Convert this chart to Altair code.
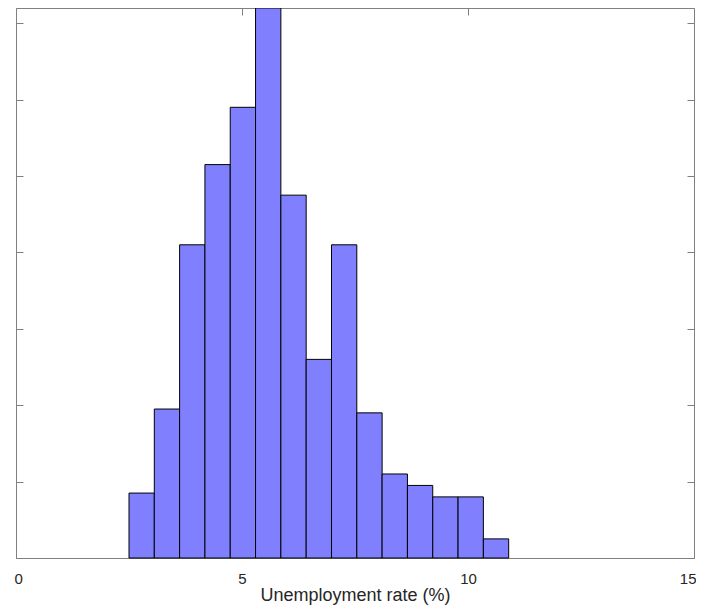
import altair as alt
import pandas as pd

# histogram bins (unemployment rate, %) and counts per bin
bin_lo = [2.50, 3.06, 3.62, 4.18, 4.74, 5.30, 5.86, 6.42, 6.98, 7.54, 8.10, 8.66, 9.22, 9.78, 10.34]
bin_hi = [3.06, 3.62, 4.18, 4.74, 5.30, 5.86, 6.42, 6.98, 7.54, 8.10, 8.66, 9.22, 9.78, 10.34, 10.90]
counts = [17, 39, 82, 103, 118, 144, 95, 52, 82, 38, 22, 19, 16, 16, 5]

x_ticks = [0, 5, 10, 15]
y_ticks = [0, 20, 40, 60, 80, 100, 120, 140]

df = pd.DataFrame({"lo": bin_lo, "hi": bin_hi, "count": counts})

x_scale = alt.Scale(domain=[0, 15], nice=False, zero=False)
y_scale = alt.Scale(domain=[0, 144], nice=False)

# inward ticks: pull the axis inside the frame and let ticks point back out to the edge
inward = dict(offset=-7, tickSize=7, tickColor="#808080", tickWidth=1, domain=False, grid=False)

bars = alt.Chart(df).mark_bar(color="#8080ff", stroke="black", strokeWidth=1).encode(
    x=alt.X(
        "lo:Q",
        scale=x_scale,
        axis=alt.Axis(
            orient="bottom",
            values=x_ticks,
            labelFontSize=15,
            labelColor="#262626",
            labelPadding=13,
            labelFlush=True,
            labelFlushOffset=2,
            labelOverlap=False,
            title="Unemployment rate (%)",
            titleFontSize=18,
            titleFontWeight="normal",
            titleColor="#262626",
            titlePadding=0,
            **inward,
        ),
    ),
    x2="hi:Q",
    y=alt.Y(
        "count:Q",
        scale=y_scale,
        axis=alt.Axis(orient="left", values=y_ticks, labels=False, title=None, **inward),
    ),
    y2=alt.datum(0),
)

# invisible copy that only carries the top and right tick marks
mirror = alt.Chart(df).mark_bar(opacity=0).encode(
    x=alt.X(
        "lo:Q",
        scale=x_scale,
        axis=alt.Axis(orient="top", values=x_ticks, labels=False, title=None, **inward),
    ),
    x2="hi:Q",
    y=alt.Y(
        "count:Q",
        scale=y_scale,
        axis=alt.Axis(orient="right", values=y_ticks, labels=False, title=None, **inward),
    ),
    y2=alt.datum(0),
)

chart = (
    alt.layer(bars, mirror)
    .resolve_axis(x="independent", y="independent")
    .properties(
        width=678,
        height=550,
        autosize=alt.AutoSizeParams(type="none"),
        padding={"left": 8, "top": 0, "right": 2, "bottom": 47},
    )
    .configure_view(stroke="#808080", strokeWidth=1)
    .configure_axis(labelFont="Liberation Sans", titleFont="Liberation Sans")
)

chart.save("out.html", embed_options={"renderer": "svg", "actions": False})
